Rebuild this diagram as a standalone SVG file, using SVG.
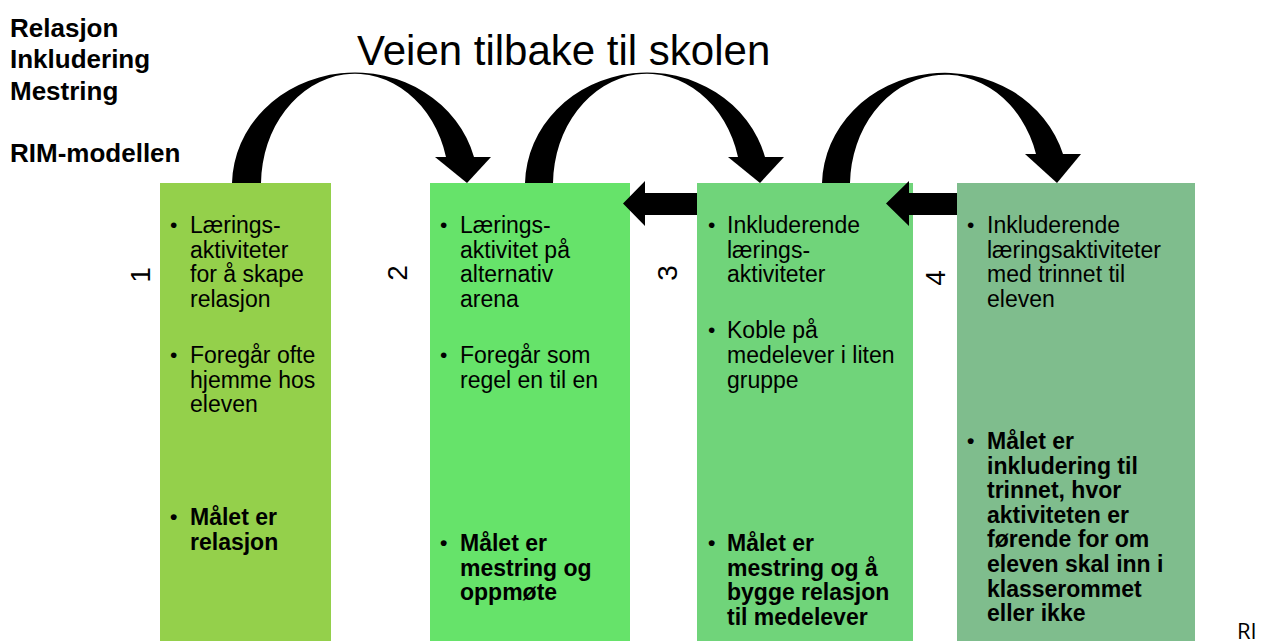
<svg xmlns="http://www.w3.org/2000/svg" width="1262" height="641" viewBox="0 0 1262 641">
  <style>
    text { font-family: "Liberation Sans", Arial, sans-serif; fill: #000; }
    .hdr { font-size: 26px; font-weight: bold; }
    .title { font-size: 42px; }
    .body { font-size: 23px; }
    .b { font-weight: bold; }
    .bul { font-size: 21px; }
    .num { font-size: 28px; text-anchor: middle; }
    .arr { fill: #000; stroke: none; }
  </style>
  <rect x="0" y="0" width="1262" height="641" fill="#fff"/>

  <g id="header">
    <text class="hdr" x="10" y="37">Relasjon</text>
    <text class="hdr" x="10" y="68">Inkludering</text>
    <text class="hdr" x="10" y="99.5">Mestring</text>
    <text class="hdr" x="10" y="162">RIM-modellen</text>
  </g>
  <text id="title" class="title" x="357" y="65">Veien tilbake til skolen</text>

  <g id="step1">
    <rect x="160" y="183" width="171" height="458" fill="#94D04B"/>
    <text class="num" transform="translate(150,275) rotate(-90)">1</text>
    <text class="body">
      <tspan class="bul" x="170" y="232">•</tspan><tspan x="190" y="233">Lærings-</tspan>
      <tspan x="190" y="257.6">aktiviteter</tspan>
      <tspan x="190" y="282.2">for å skape</tspan>
      <tspan x="190" y="306.8">relasjon</tspan>
      <tspan class="bul" x="170" y="362">•</tspan><tspan x="190" y="363">Foregår ofte</tspan>
      <tspan x="190" y="387.6">hjemme hos</tspan>
      <tspan x="190" y="412.2">eleven</tspan>
    </text>
    <text class="body b">
      <tspan class="bul" x="170" y="524">•</tspan><tspan x="190" y="525">Målet er</tspan>
      <tspan x="190" y="549.6">relasjon</tspan>
    </text>
  </g>

  <g id="step2">
    <rect x="430" y="183" width="200" height="458" fill="#66E36A"/>
    <text class="num" transform="translate(407,273) rotate(-90)">2</text>
    <text class="body">
      <tspan class="bul" x="440" y="232">•</tspan><tspan x="460" y="233">Lærings-</tspan>
      <tspan x="460" y="257.6">aktivitet på</tspan>
      <tspan x="460" y="282.2">alternativ</tspan>
      <tspan x="460" y="306.8">arena</tspan>
      <tspan class="bul" x="440" y="362">•</tspan><tspan x="460" y="363">Foregår som</tspan>
      <tspan x="460" y="387.6">regel en til en</tspan>
    </text>
    <text class="body b">
      <tspan class="bul" x="440" y="550">•</tspan><tspan x="460" y="551">Målet er</tspan>
      <tspan x="460" y="575.6">mestring og</tspan>
      <tspan x="460" y="600.2">oppmøte</tspan>
    </text>
  </g>

  <g id="step3">
    <rect x="697" y="183" width="216" height="458" fill="#70D47A"/>
    <text class="num" transform="translate(677,273) rotate(-90)">3</text>
    <text class="body">
      <tspan class="bul" x="708" y="232">•</tspan><tspan x="727" y="233">Inkluderende</tspan>
      <tspan x="727" y="257.6">lærings-</tspan>
      <tspan x="727" y="282.2">aktiviteter</tspan>
      <tspan class="bul" x="708" y="337.4">•</tspan><tspan x="727" y="338.4">Koble på</tspan>
      <tspan x="727" y="363">medelever i liten</tspan>
      <tspan x="727" y="387.6">gruppe</tspan>
    </text>
    <text class="body b">
      <tspan class="bul" x="708" y="550">•</tspan><tspan x="727" y="551">Målet er</tspan>
      <tspan x="727" y="575.6">mestring og å</tspan>
      <tspan x="727" y="600.2">bygge relasjon</tspan>
      <tspan x="727" y="624.8">til medelever</tspan>
    </text>
  </g>

  <g id="step4">
    <rect x="957" y="183" width="238" height="458" fill="#7FBD8D"/>
    <text class="num" transform="translate(945,278) rotate(-90)">4</text>
    <text class="body">
      <tspan class="bul" x="967" y="232">•</tspan><tspan x="987" y="233">Inkluderende</tspan>
      <tspan x="987" y="257.6">læringsaktiviteter</tspan>
      <tspan x="987" y="282.2">med trinnet til</tspan>
      <tspan x="987" y="306.8">eleven</tspan>
    </text>
    <text class="body b">
      <tspan class="bul" x="967" y="448">•</tspan><tspan x="987" y="449">Målet er</tspan>
      <tspan x="987" y="473.6">inkludering til</tspan>
      <tspan x="987" y="498.2">trinnet, hvor</tspan>
      <tspan x="987" y="522.8">aktiviteten er</tspan>
      <tspan x="987" y="547.4">førende for om</tspan>
      <tspan x="987" y="572">eleven skal inn i</tspan>
      <tspan x="987" y="596.6">klasserommet</tspan>
      <tspan x="987" y="621.2">eller ikke</tspan>
    </text>
  </g>

  <g id="connectors">
    <!-- curved arrow 1 -> 2 -->
    <path class="arr" d="M232,183 A123,113 0 0 1 474,157 L446,157 A94,111 0 0 0 261,183 Z"/>
    <polygon class="arr" points="435,157 491,157 467,183"/>
    <!-- curved arrow 2 -> 3 -->
    <path class="arr" d="M525,183 A122,113 0 0 1 765,157 L738,157 A94,111 0 0 0 553,183 Z"/>
    <polygon class="arr" points="728,157 784,157 760,183"/>
    <!-- curved arrow 3 -> 4 -->
    <path class="arr" d="M822,183 A123,113 0 0 1 1063,154 L1036,154 A95,111 0 0 0 850,183 Z"/>
    <polygon class="arr" points="1025,154 1081,154 1057,183"/>
    <!-- straight arrows -->
    <polygon class="arr" points="623,203.5 645,181 645,193 697,193 697,215 645,215 645,226"/>
    <polygon class="arr" points="886,203.5 909,181 909,193 957,193 957,215 909,215 909,226"/>
  </g>

  <text id="ri" x="1237" y="639" style="font-family:'Open Sans','Liberation Sans',sans-serif;font-size:22px">RI</text>
</svg>
